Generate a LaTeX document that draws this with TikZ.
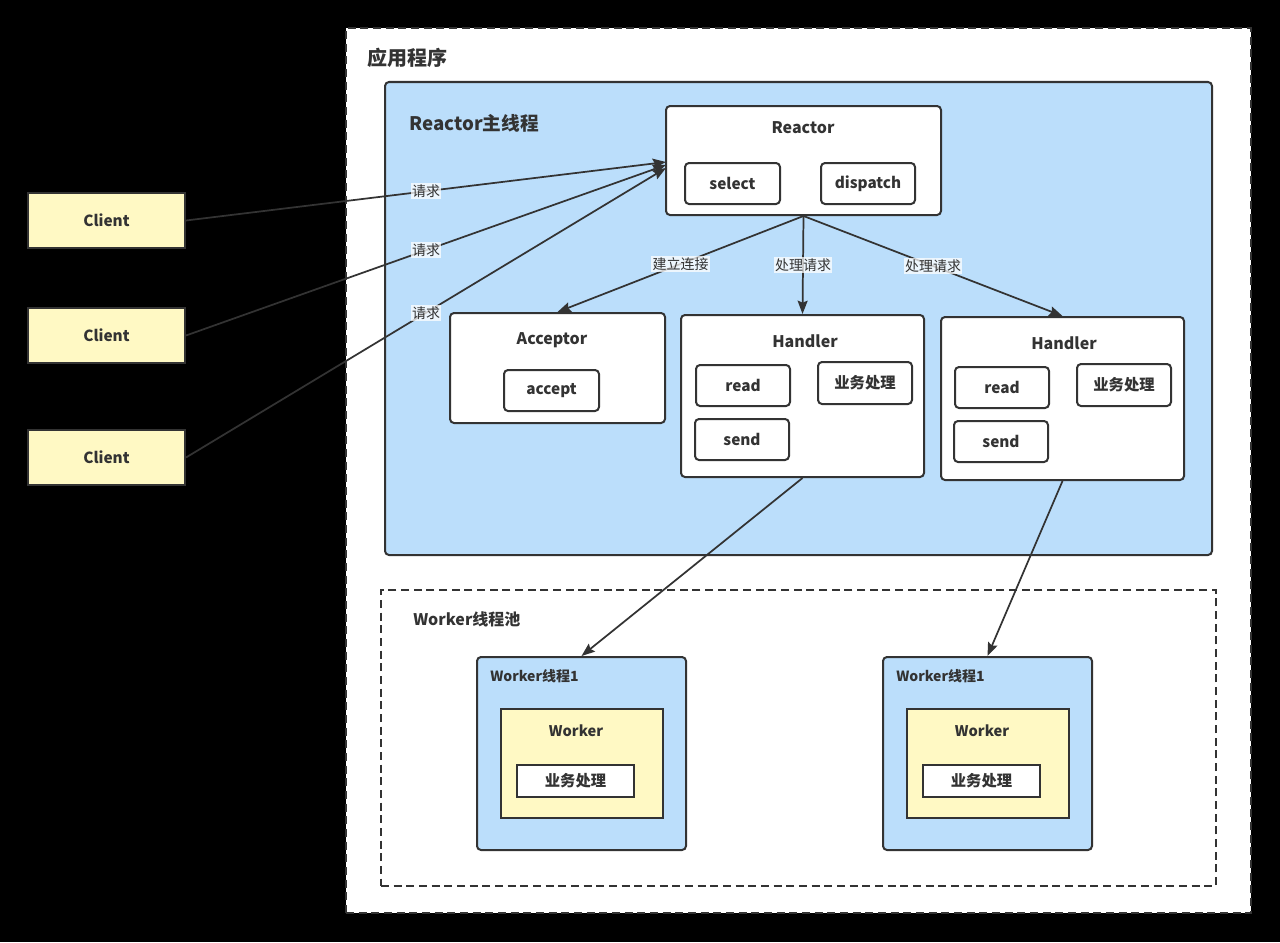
\documentclass[tikz,border=0pt]{standalone}
\usepackage{fontspec}
\setmainfont{Noto Sans CJK SC}
\usetikzlibrary{arrows.meta}
\usetikzlibrary{fit}
\usetikzlibrary{positioning}

\definecolor{lineGray}{RGB}{51,51,51}
\definecolor{threadBlue}{RGB}{187,222,251}
\definecolor{noteYellow}{RGB}{255,249,196}

\tikzset{
  area/.style={draw=lineGray,line width=1.5pt,inner sep=0pt},
  dasharea/.style={area,dash pattern=on 6pt off 3.5pt,fill=white},
  bluearea/.style={area,fill=threadBlue,rounded corners=3pt},
  whitebox/.style={area,fill=white,rounded corners=3pt},
  yellowbox/.style={area,fill=noteYellow},
  plainbox/.style={area,fill=white},
  boxtext/.style={text=lineGray,font=\fontsize{11.5}{13}\selectfont\bfseries,inner sep=0pt},
  title/.style={text=lineGray,font=\fontsize{12}{14}\selectfont\bfseries,inner sep=0pt},
  flow/.style={draw=lineGray,line width=1.3pt,-{Stealth[length=10pt,width=7.5pt,inset=1.5pt]}},
  lbl/.style={fill=white,fill opacity=0.75,text opacity=1,text=lineGray,inner sep=1pt,font=\fontsize{10.5}{12}\selectfont}
}

\begin{document}
\begin{tikzpicture}[x=0.75pt,y=-0.75pt]

  \fill[black] (0,0) rectangle (1280,942);
  \useasboundingbox (0,0) rectangle (1280,942);

  % application
  \node [dasharea,fit={(346,28) (1251,913)}] (app) {};
  \node [title,anchor=west,font=\fontsize{15}{17}\selectfont\bfseries] (appTitle) at (367,58) {应用程序};

  % reactor main thread
  \node [bluearea,fit={(385,82) (1212,555)}] (main) {};
  \node [title,anchor=west,font=\fontsize{14}{16}\selectfont\bfseries] (mainTitle) at (409,123) {Reactor主线程};

  \node [whitebox,fit={(666,106) (941,215)}] (reactor) {};
  \node [title] (reactorTitle) at (803,128) {Reactor};
  \node [whitebox,fit={(685,163) (780,204)},label={[boxtext]center:select}] (select) {};
  \node [whitebox,fit={(821,163) (915,204)},label={[boxtext]center:dispatch}] (dispatch) {};

  \node [whitebox,fit={(450,313) (665,423)}] (acceptor) {};
  \node [title] (acceptorTitle) at (552,340) {Acceptor};
  \node [whitebox,fit={(504,370) (599,411)},label={[boxtext]center:accept}] (accept) {};

  \node [whitebox,fit={(681,315) (924,477)}] (handlerA) {};
  \node [title] (handlerATitle) at (805,341) {Handler};
  \node [whitebox,fit={(696,365) (790,406)},label={[boxtext]center:read}] (readA) {};
  \node [whitebox,fit={(818,362) (912,404)},label={[boxtext]center:业务处理}] (workA) {};
  \node [whitebox,fit={(695,419) (789,460)},label={[boxtext]center:send}] (sendA) {};

  \node [whitebox,fit={(941,317) (1184,480)}] (handlerB) {};
  \node [title] (handlerBTitle) at (1064,343) {Handler};
  \node [whitebox,fit={(955,367) (1049,408)},label={[boxtext]center:read}] (readB) {};
  \node [whitebox,fit={(1077,364) (1171,406)},label={[boxtext]center:业务处理}] (workB) {};
  \node [whitebox,fit={(954,421) (1048,462)},label={[boxtext]center:send}] (sendB) {};

  % worker pool
  \node [dasharea,fit={(381,590) (1216,886)}] (pool) {};
  \node [title,anchor=west] (poolTitle) at (413,619) {Worker线程池};

  \node [bluearea,fit={(477,657) (686,850)}] (threadA) {};
  \node [title,anchor=west,font=\fontsize{10.5}{12}\selectfont\bfseries] (threadATitle) at (490,676) {Worker线程1};
  \node [yellowbox,fit={(501,709) (663,818)}] (workerA) {};
  \node [title,font=\fontsize{11}{13}\selectfont\bfseries] (workerATitle) at (576,731) {Worker};
  \node [plainbox,fit={(517,765) (634,797)},label={[boxtext]center:业务处理}] (jobA) {};

  \node [bluearea,fit={(883,657) (1092,850)}] (threadB) {};
  \node [title,anchor=west,font=\fontsize{10.5}{12}\selectfont\bfseries] (threadBTitle) at (896,676) {Worker线程1};
  \node [yellowbox,fit={(907,709) (1069,818)}] (workerB) {};
  \node [title,font=\fontsize{11}{13}\selectfont\bfseries] (workerBTitle) at (982,731) {Worker};
  \node [plainbox,fit={(923,765) (1040,797)},label={[boxtext]center:业务处理}] (jobB) {};

  % clients
  \node [yellowbox,fit={(28,193) (185,248)},label={[boxtext]center:Client}] (clientA) {};
  \node [yellowbox,fit={(28,308) (185,363)},label={[boxtext]center:Client}] (clientB) {};
  \node [yellowbox,fit={(28,430) (185,485)},label={[boxtext]center:Client}] (clientC) {};

  \coordinate (inA) at (666,162);
  \coordinate (inB) at (666,165);
  \coordinate (inC) at (666,168);

  \draw [flow] (clientA.east) -- node [lbl] {请求} (inA);
  \draw [flow] (clientB.east) -- node [lbl] {请求} (inB);
  \draw [flow] (clientC.east) -- node [lbl] {请求} (inC);
  \draw [flow] (reactor.south) -- node [lbl] {建立连接} (acceptor.north);
  \draw [flow] (reactor.south) -- node [lbl] {处理请求} (handlerA.north);
  \draw [flow] (reactor.south) -- node [lbl] {处理请求} (handlerB.north);
  \draw [flow] (handlerA.south) -- (threadA.north);
  \draw [flow] (handlerB.south) -- (threadB.north);

\end{tikzpicture}
\end{document}
